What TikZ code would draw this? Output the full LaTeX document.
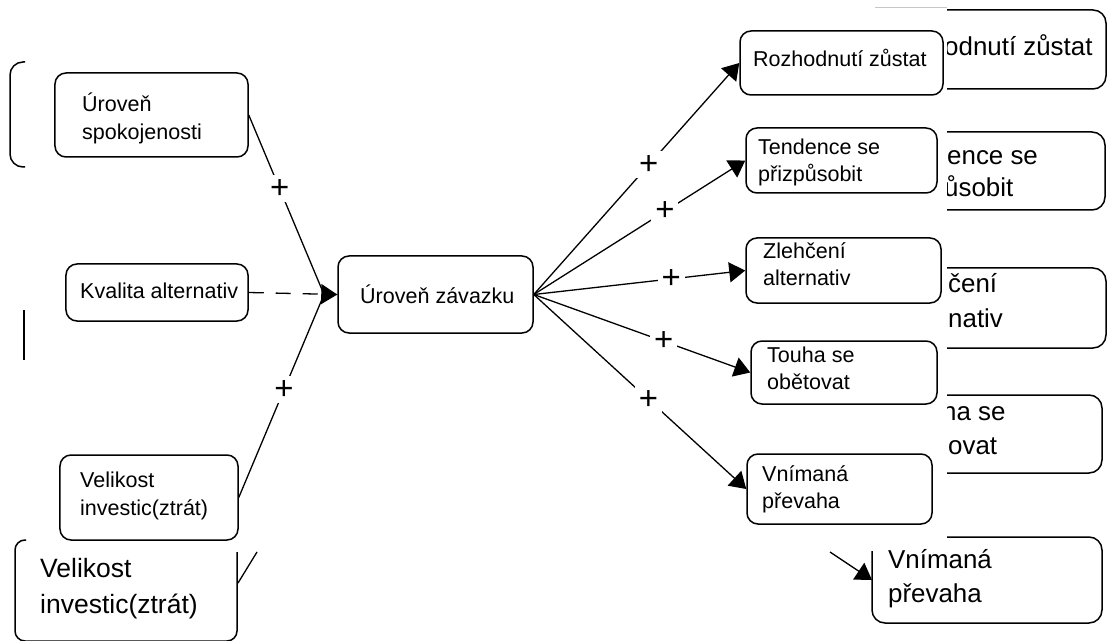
\documentclass[tikz,border=0pt]{standalone}
\usepackage{fontspec}
\newfontfamily\arialf{Liberation Sans}
\usetikzlibrary{arrows.meta}
\begin{document}
\begin{tikzpicture}[x=1bp,y=-1bp,
  sbox/.style={draw, line width=1.5bp, rounded corners=11bp, inner sep=0pt},
  stxt/.style={anchor=base west, inner sep=0pt, font=\arialf\fontsize{21.6}{25}\selectfont},
  btxt/.style={anchor=base west, inner sep=0pt, font=\arialf\fontsize{26}{30}\selectfont},
  conn/.style={line width=1.3bp},
  arr/.style={-{Triangle[length=16bp,width=20bp]}},
  plusmark/.style={fill=white, inner sep=4bp, font=\arialf\fontsize{33}{33}\selectfont},
  bgbox/.style={line width=1.5bp, rounded corners=13bp},
]
\useasboundingbox (0,0) rectangle (1108,641);

% ---------- background (partly hidden) layer ----------
\draw[gray!45, line width=1bp] (875,8) -- (947,8);
\begin{scope}
  \clip (947,0) rectangle (1108,641);
  \draw[bgbox] (872,10) rectangle (1106,89);
  \node[btxt] (b1a) at (944,56) {odnutí zůstat};
  \draw[bgbox] (872,132) rectangle (1105,210);
  \node[btxt] (b2a) at (947,165) {ence se};
  \node[btxt] (b2b) at (944,197) {ůsobit};
  \draw[bgbox] (872,268) rectangle (1106,348);
  \node[btxt] (b3a) at (948,293) {čení};
  \node[btxt] (b3b) at (948,328) {nativ};
  \draw[bgbox] (872,395) rectangle (1102,473);
  \node[btxt] (b4a) at (942,420) {ha se};
  \node[btxt] (b4b) at (948,454) {ovat};
\end{scope}
\draw[bgbox] (947,537) -- (1102,537) -- (1102,623) -- (872,623) -- (872,551);
\node[btxt] (b5a) at (888,568) {Vnímaná};
\node[btxt] (b5b) at (888,602) {převaha};
\coordinate (b5src) at (830,552);
\coordinate (b5w) at (872,580);
\draw[conn,arr] (b5src) -- (b5w);

\draw[bgbox] (25,62) -- (10,62) -- (10,167) -- (25,167);
\draw[bgbox] (24,310) -- (24,360);
\draw[line width=1.5bp, rounded corners=10bp] (26,540) -- (15,540) -- (15,641) -- (237,641) -- (237,552);
\node[btxt, font=\arialf\fontsize{26.6}{30}\selectfont] (b6a) at (40,577) {Velikost};
\node[btxt, font=\arialf\fontsize{26.6}{30}\selectfont] (b6b) at (40,613) {investic(ztrát)};
\coordinate (b6s) at (238,583);
\coordinate (b6e) at (257,552);
\draw[conn] (b6s) -- (b6e);

% ---------- main diagram ----------
\node[sbox, minimum width=193bp, minimum height=84bp] (spok) at (151.5,115) {};
\node[stxt] (spok1) at (82,112) {Úroveň};
\node[stxt] (spok2) at (82,140) {spokojenosti};

\node[sbox, minimum width=182bp, minimum height=57bp] (kval) at (157,292.5) {};
\node[stxt] (kval1) at (80,299) {Kvalita alternativ};

\node[sbox, minimum width=178bp, minimum height=85bp] (velk) at (149,497.5) {};
\node[stxt] (velk1) at (80,487) {Velikost};
\node[stxt] (velk2) at (80,515) {investic(ztrát)};

\node[sbox, minimum width=195bp, minimum height=77bp] (zav) at (435.5,294.5) {};
\node[stxt] (zav1) at (360,304) {Úroveň závazku};

\node[sbox, minimum width=203bp, minimum height=64bp] (rozh) at (841.5,63) {};
\node[stxt] (rozh1) at (753,67) {Rozhodnutí zůstat};

\node[sbox, minimum width=191bp, minimum height=65bp] (tend) at (841.5,160.5) {};
\node[stxt] (tend1) at (758,155) {Tendence se};
\node[stxt] (tend2) at (758,182) {přizpůsobit};

\node[sbox, minimum width=195bp, minimum height=65bp] (zleh) at (843.5,270.5) {};
\node[stxt] (zleh1) at (763,259) {Zlehčení};
\node[stxt] (zleh2) at (763,286) {alternativ};

\node[sbox, minimum width=186bp, minimum height=63bp] (touha) at (844,372.5) {};
\node[stxt] (touha1) at (767,362) {Touha se};
\node[stxt] (touha2) at (767,389) {obětovat};

\node[sbox, minimum width=185bp, minimum height=70bp] (vnim) at (839.5,489) {};
\node[stxt] (vnim1) at (762,481) {Vnímaná};
\node[stxt] (vnim2) at (762,508) {převaha};

% left connectors
\coordinate (jl) at (324,294.5);
\draw[conn] (spok.east) -- node[plusmark, pos=0.41] (p1) {+} (jl) -- (zav.west);
\draw[conn] (velk.east) -- node[plusmark, pos=0.53] (p2) {+} (jl);
\draw[conn, dash pattern=on 15bp off 12bp, arr] (kval.east) -- (zav.west);

% right connectors
\draw[conn, arr] (zav.east) -- node[plusmark, pos=0.56] (p3) {+} (rozh.west);
\draw[conn, arr] (zav.east) -- node[plusmark, pos=0.62] (p4) {+} (tend.west);
\draw[conn, arr] (zav.east) -- node[plusmark, pos=0.65] (p5) {+} (zleh.west);
\draw[conn, arr] (zav.east) -- node[plusmark, pos=0.60] (p6) {+} (touha.west);
\draw[conn, arr] (zav.east) -- node[plusmark, pos=0.54] (p7) {+} (vnim.west);
\end{tikzpicture}
\end{document}
